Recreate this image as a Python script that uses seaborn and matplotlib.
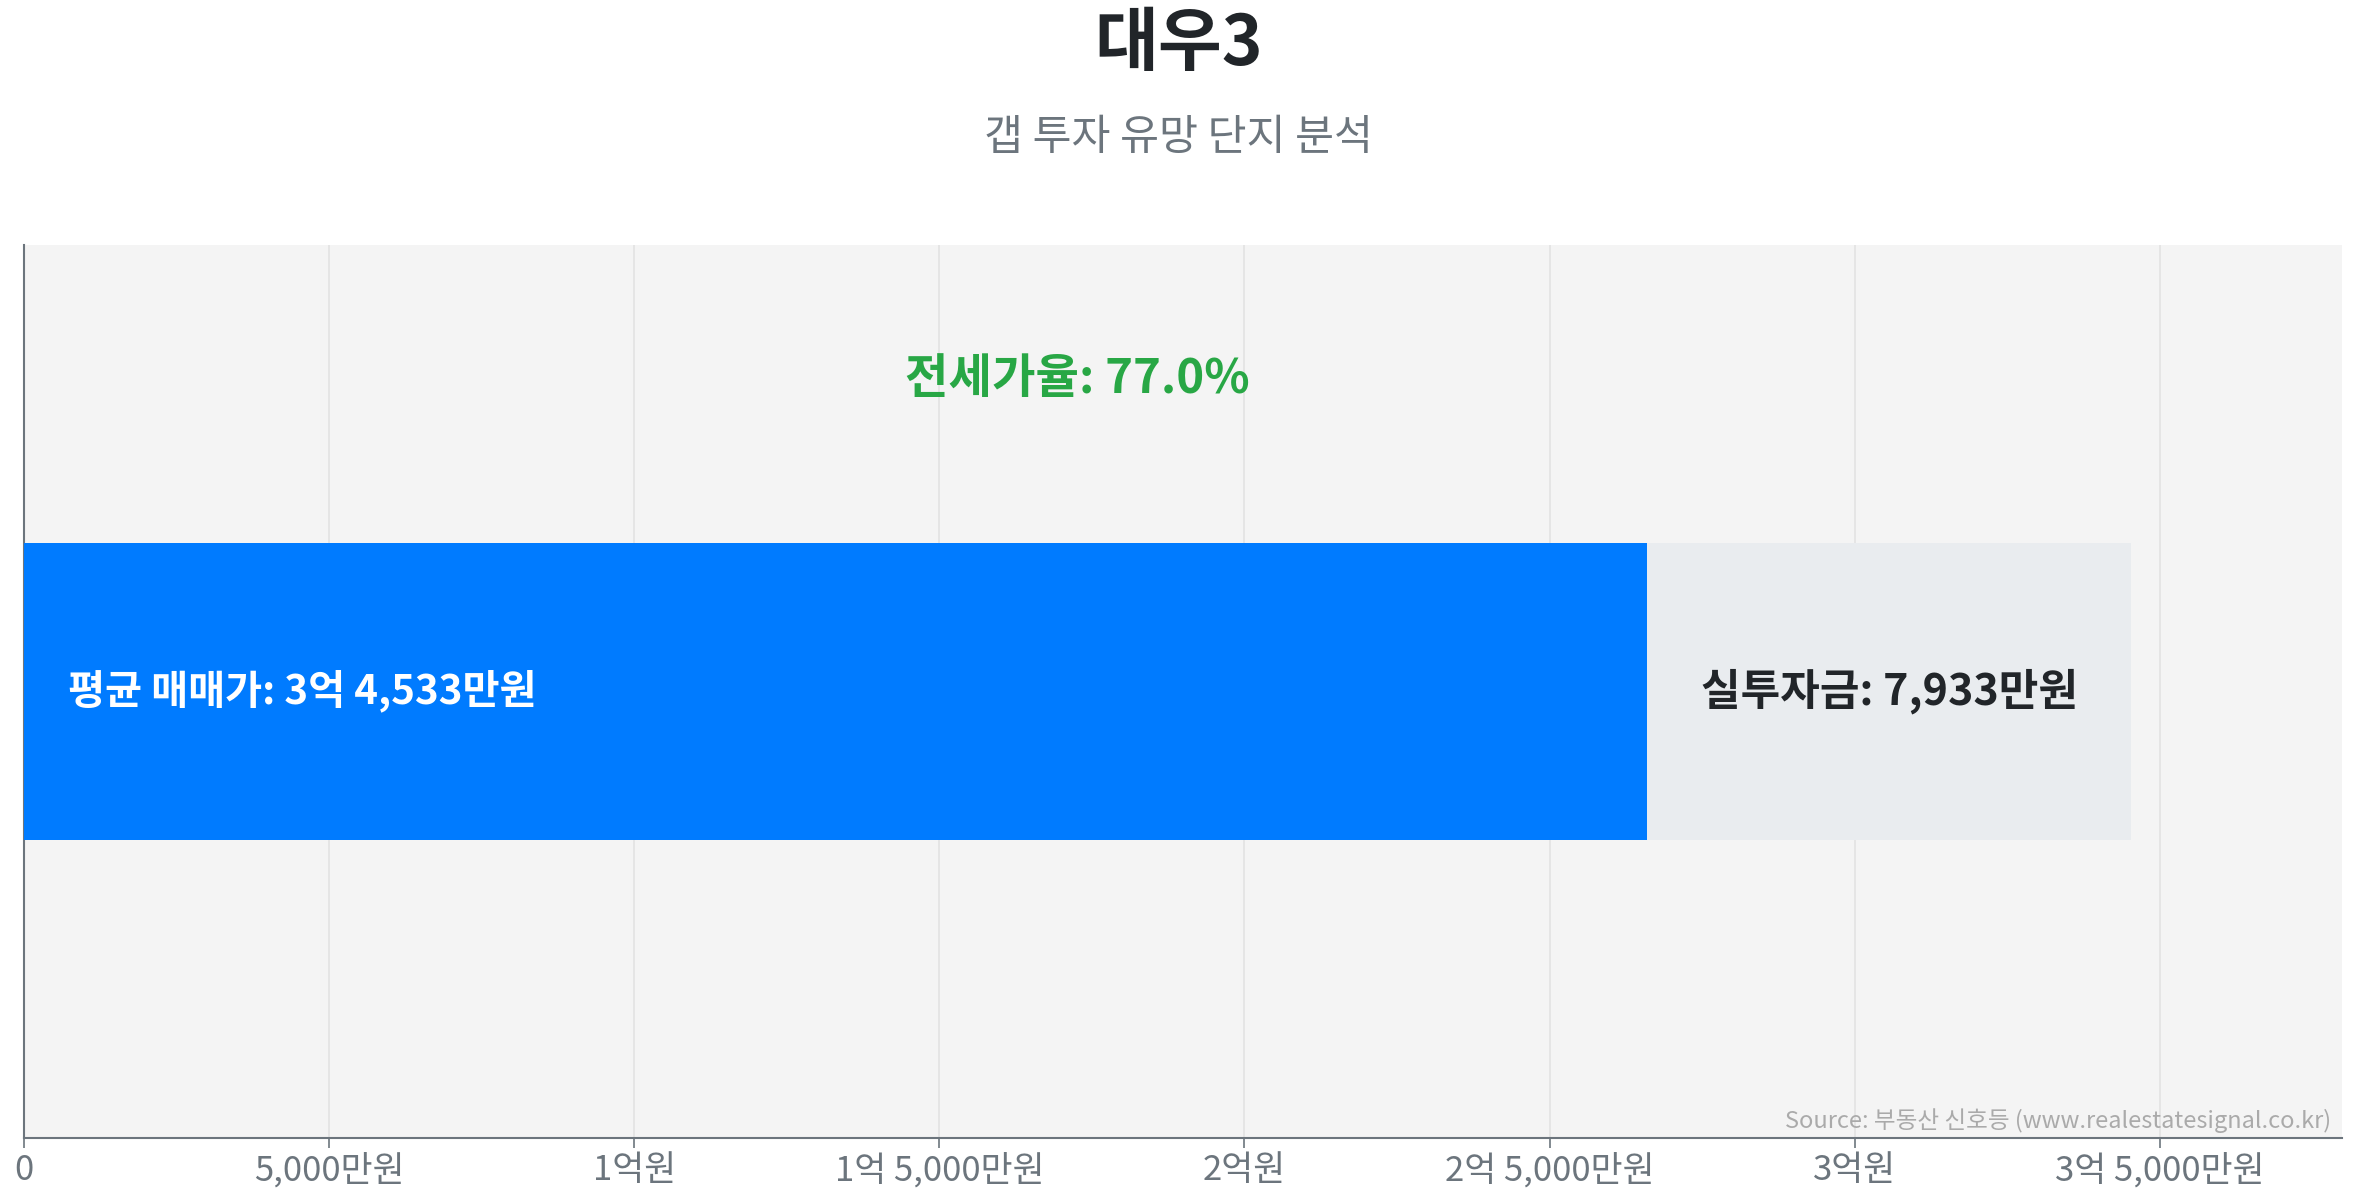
import pandas as pd
import seaborn as sns
import matplotlib.pyplot as plt
from matplotlib.ticker import FuncFormatter, MultipleLocator

# data (won)
complex_name = ['대우3']
sale_price = [345330000]      # 평균 매매가
gap_invest = [79330000]       # 실투자금
jeonse_rate = 77.0

title = '대우3'
subtitle = '갭 투자 유망 단지 분석'
source = 'Source: 부동산 신호등 (www.realestatesignal.co.kr)'

df = pd.DataFrame({'name': complex_name, 'sale': sale_price, 'gap': gap_invest})
df['jeonse'] = df['sale'] - df['gap']

sns.set_style('white')
plt.rcParams['font.family'] = ['Noto Sans CJK KR', 'DejaVu Sans']


def won_fmt(v, pos=None):
    man = int(round(v / 10000))
    if man == 0:
        return '0'
    eok, rest = divmod(man, 10000)
    if eok and rest:
        return f'{eok}억 {rest:,}만원'
    if eok:
        return f'{eok}억원'
    return f'{rest:,}만원'


fig = plt.figure(figsize=(23.57, 12), dpi=100)
ax = fig.add_axes([0.0102, 0.0517, 0.9834, 0.7443])
ax.set_facecolor('#f4f4f4')

# total bar (grey) with jeonse part (blue) on top
sns.barplot(data=df, x='sale', y='name', orient='h', color='#e9ecef',
            width=1.0, saturation=1, linewidth=0, ax=ax, zorder=2)
sns.barplot(data=df, x='jeonse', y='name', orient='h', color='#007bff',
            width=1.0, saturation=1, linewidth=0, ax=ax, zorder=3)

xmax = df['sale'].iloc[0] * 1.1
ax.set_xlim(0, xmax)
ax.set_ylim(-1.5, 1.5)
ax.set_yticks([])
ax.set_ylabel('')
ax.set_xlabel('')

ax.xaxis.set_major_locator(MultipleLocator(50000000))
ax.xaxis.set_major_formatter(FuncFormatter(won_fmt))
ax.tick_params(axis='x', colors='#6c757d', labelsize=25, length=7, width=1.2,
               direction='out', bottom=True, pad=4)
ax.grid(axis='x', color='#e3e3e3', linewidth=1.2, zorder=0)
ax.set_axisbelow(True)

for s in ['top', 'right']:
    ax.spines[s].set_visible(False)
for s in ['left', 'bottom']:
    ax.spines[s].set_color('#6c757d')
    ax.spines[s].set_linewidth(1.5)

sale = df['sale'].iloc[0]
gap = df['gap'].iloc[0]
jeonse = df['jeonse'].iloc[0]

ax.text(xmax * 0.019, 0, f'평균 매매가: {won_fmt(sale)}', color='white',
        fontsize=29, fontweight='bold', ha='left', va='center', zorder=5)
ax.text(jeonse + gap / 2, 0, f'실투자금: {won_fmt(gap)}', color='#212529',
        fontsize=31, fontweight='bold', ha='center', va='center', zorder=5)
ax.text(sale / 2, 1.05, f'전세가율: {jeonse_rate:.1f}%', color='#28a745',
        fontsize=34, fontweight='bold', ha='center', va='center', zorder=5)

ax.text(0.9955, 0.006, source, transform=ax.transAxes, ha='right', va='bottom',
        color='#aaaaaa', fontsize=17, zorder=5)

fig.text(0.5, 0.963, title, ha='center', va='center', fontsize=50,
         fontweight='bold', color='#212529')
fig.text(0.5, 0.885, subtitle, ha='center', va='center', fontsize=30.5,
         color='#6c757d')

fig.savefig('out.png', dpi=100, facecolor='white')
